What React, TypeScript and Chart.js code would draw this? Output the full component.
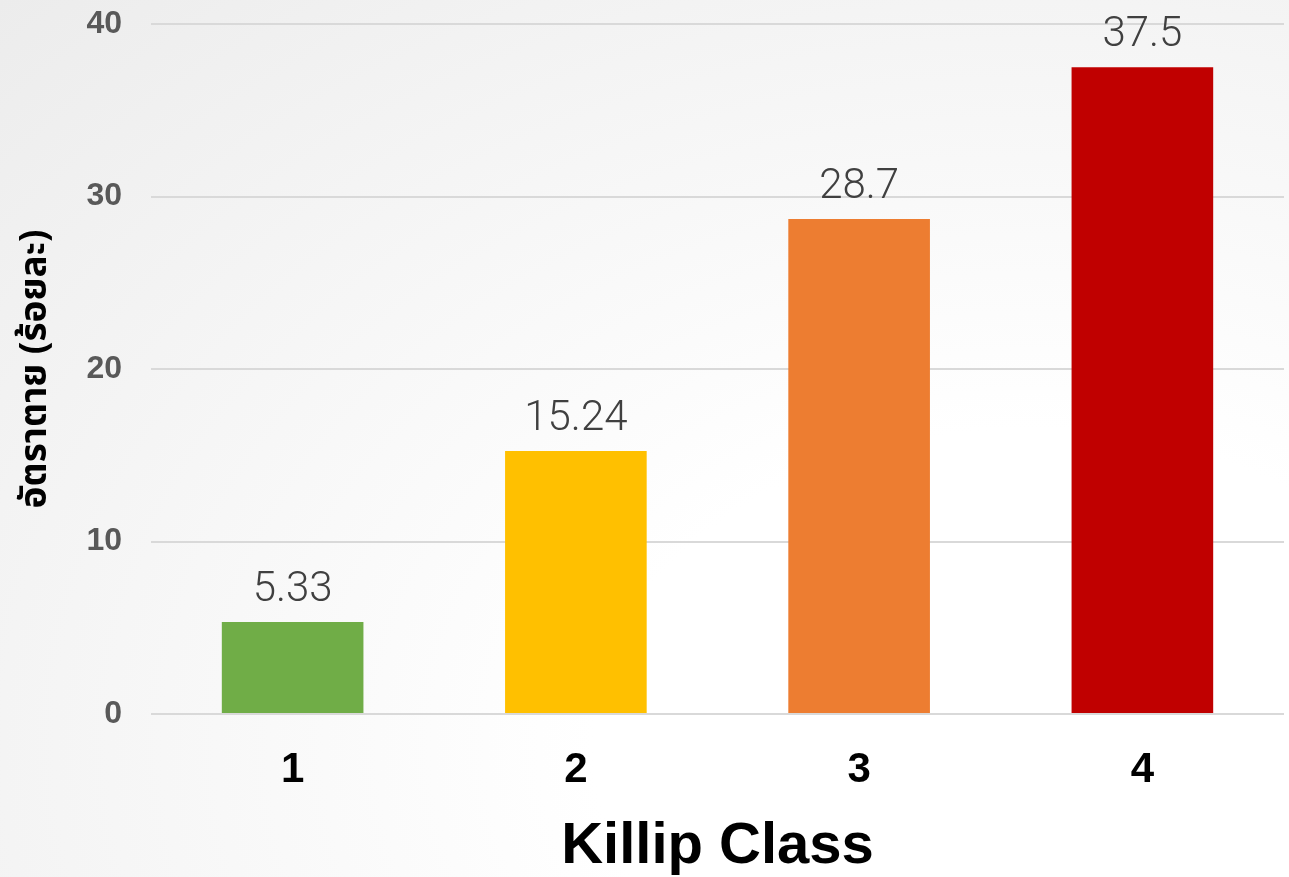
import React, { useEffect, useRef } from "react";
import { Chart, registerables } from "chart.js";

Chart.register(...registerables);

const categories = ["1", "2", "3", "4"];
const mortality = [5.33, 15.24, 28.7, 37.5];
const valueLabels = ["5.33", "15.24", "28.7", "37.5"];
const barColors = ["#70AD47", "#FFC000", "#ED7D31", "#C00000"];
const yTicks = [0, 10, 20, 30, 40];
const xTitle = "Killip Class";
const yTitle = "อัตราตาย (ร้อยละ)";

const valueLabelPlugin = {
  id: "valueLabels",
  afterDatasetsDraw(chart: any) {
    const ctx = chart.ctx;
    const meta = chart.getDatasetMeta(0);
    ctx.save();
    ctx.fillStyle = "#404040";
    ctx.font = "300 42px Roboto, 'Liberation Sans', sans-serif";
    ctx.textAlign = "center";
    ctx.textBaseline = "alphabetic";
    meta.data.forEach((bar: any, i: number) => {
      ctx.fillText(valueLabels[i], bar.x, bar.y - 21);
    });
    ctx.restore();
  },
};

export default function App() {
  const canvasRef = useRef<HTMLCanvasElement | null>(null);

  useEffect(() => {
    if (!canvasRef.current) return;
    const chart = new Chart(canvasRef.current, {
      type: "bar",
      data: {
        labels: categories,
        datasets: [
          {
            data: mortality,
            backgroundColor: barColors,
            borderWidth: 0,
            categoryPercentage: 1,
            barPercentage: 0.5,
          },
        ],
      },
      options: {
        animation: false,
        responsive: false,
        layout: { padding: { top: 24, right: 5, bottom: 0, left: 0 } },
        plugins: {
          legend: { display: false },
          tooltip: { enabled: false },
        },
        scales: {
          x: {
            grid: { display: false, drawTicks: false },
            border: { display: false },
            ticks: {
              color: "#000000",
              padding: 31,
              font: { family: "'Liberation Sans', Arial, sans-serif", size: 42, weight: "bold" },
            },
            title: {
              display: true,
              text: xTitle,
              color: "#000000",
              padding: { top: 0, bottom: -5 },
              font: { family: "'Liberation Sans', Arial, sans-serif", size: 58, weight: "bold" },
            },
            afterFit(scale: any) {
              scale.height = 163;
              scale.paddingLeft = 0;
              scale.paddingRight = 0;
            },
          },
          y: {
            min: 0,
            max: 40,
            afterBuildTicks(scale: any) {
              scale.ticks = yTicks.map((v) => ({ value: v }));
            },
            grid: { color: "#d9d9d9", lineWidth: 2, drawTicks: false },
            border: { display: false },
            ticks: {
              color: "#595959",
              padding: 29,
              font: { family: "'Liberation Sans', Arial, sans-serif", size: 32, weight: "bold" },
            },
            title: {
              display: true,
              text: yTitle,
              color: "#000000",
              padding: { top: 16, bottom: 0 },
              font: { family: "'Noto Sans Thai', 'Noto Sans', 'DejaVu Sans', sans-serif", size: 37, weight: "bold" },
            },
            afterFit(scale: any) {
              scale.width = 151;
              scale.paddingTop = 0;
              scale.paddingBottom = 0;
            },
          },
        },
      },
      plugins: [valueLabelPlugin],
    });
    return () => chart.destroy();
  }, []);

  return (
    <div
      style={{
        position: "fixed",
        left: 0,
        top: 0,
        width: 1289,
        height: 877,
        background:
          "radial-gradient(ellipse at 80% 85%, #ffffff 0%, #ffffff 30%, #ececec 100%)",
      }}
    >
      <canvas ref={canvasRef} width={1289} height={877} style={{ display: "block" }} />
    </div>
  );
}
